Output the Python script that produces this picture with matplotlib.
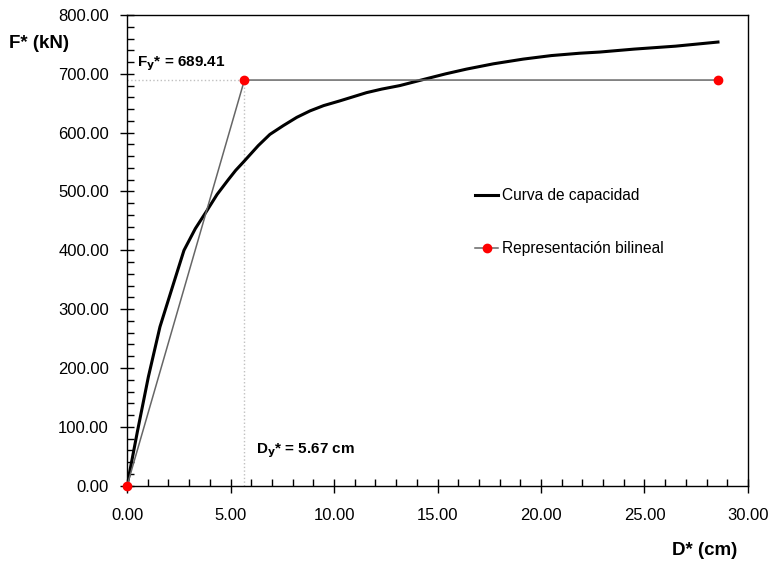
import numpy as np
import matplotlib; matplotlib.use("Agg"); import matplotlib.pyplot as plt
from matplotlib.ticker import MultipleLocator, FormatStrFormatter
plt.rcParams["font.family"]=["Liberation Sans","DejaVu Sans"]

# capacity curve
D_cap=[0,0.5,1.03,1.59,2.24,2.75,3.3,3.85,4.35,4.89,5.25,5.62,6.34,6.9,7.55,8.2,8.84,9.5,10.28,11.57,12.3,13.18,14.39,15.4,16.40,17.7,19.14,20.5,21.87,22.84,24.5,26.5,28.55]
F_cap=[0,92,185,270,343,400,437,467,495,520,536,550,578,597,612,626,637,646,654,668,674,680,691,700,708,717,725,731,735,737,742,747,754]
# bilinear representation
Dy,Fy,Du=5.67,689.41,28.55
D_bil=[0,Dy,Du]; F_bil=[0,Fy,Fy]

fig=plt.figure(figsize=(7.7,5.63),dpi=100)
ax=fig.add_axes([0.165,0.1373,0.8064,0.8361])
ax.plot([0,Dy],[Fy,Fy],ls=":",color="#c0c0c0",lw=1)
ax.plot([Dy,Dy],[0,Fy],ls=":",color="#c0c0c0",lw=1)
ax.plot(D_bil,F_bil,color="#666666",lw=1.1,marker="o",ms=6,mfc="red",mec="red",
        label="Representación bilineal",zorder=3,clip_on=False)
ax.plot(D_cap,F_cap,color="black",lw=2.2,label="Curva de capacidad",zorder=2)
ax.set_xlim(0,30); ax.set_ylim(0,800)
ax.xaxis.set_major_locator(MultipleLocator(5)); ax.xaxis.set_minor_locator(MultipleLocator(1))
ax.yaxis.set_major_locator(MultipleLocator(100)); ax.yaxis.set_minor_locator(MultipleLocator(20))
ax.xaxis.set_major_formatter(FormatStrFormatter("%.2f")); ax.yaxis.set_major_formatter(FormatStrFormatter("%.2f"))
ax.tick_params(which="major",direction="inout",length=10,width=1,labelsize=12,pad=8)
ax.tick_params(axis="x",which="major",pad=11)
ax.tick_params(which="minor",direction="in",length=5,width=1)
for s in ax.spines.values(): s.set_linewidth(1)
ax.text(0.5,Fy+12,"F$_\\mathbf{y}$* = 689.41",fontsize=11,fontweight="bold",va="bottom")
ax.text(Dy+0.55,60,"D$_\\mathbf{y}$* = 5.67 cm",fontsize=11,fontweight="bold",va="center")
fig.text(0.012,0.923,"F* (kN)",fontsize=13.5,fontweight="bold",va="center")
fig.text(0.957,0.022,"D* (cm)",fontsize=13.5,fontweight="bold",ha="right",va="center")
h,l=ax.get_legend_handles_labels()
ax.legend(h[::-1],l[::-1],loc="upper left",bbox_to_anchor=(0.538,0.662),frameon=False,
          fontsize=11.2,labelspacing=2.45,handlelength=1.5,handletextpad=0.25)
fig.savefig("out.png",dpi=100)
